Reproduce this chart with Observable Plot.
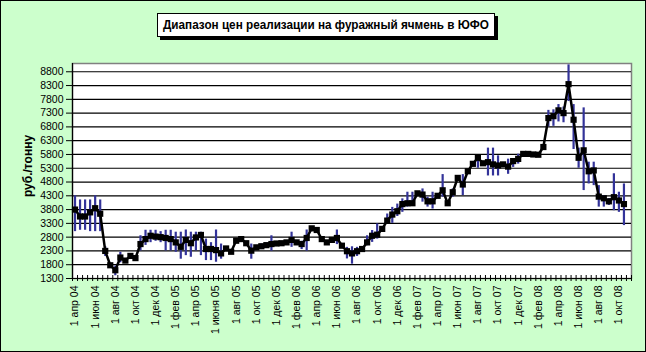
<!DOCTYPE html>
<html>
<head>
<meta charset="utf-8">
<script src="https://cdn.jsdelivr.net/npm/d3@7"></script>
<script src="https://cdn.jsdelivr.net/npm/@observablehq/plot@0.6"></script>
<style>
  html, body { margin: 0; padding: 0; background: #CCFFCC; }
  #wrap { position: relative; width: 646px; height: 352px; background: #CCFFCC; overflow: hidden; }
  #border { position: absolute; left: 0; top: 0; width: 646px; height: 352px; box-sizing: border-box; border: 1px solid #000; pointer-events: none; }
  #title { position: absolute; left: 157px; top: 13px; width: 336px; height: 22px; background: #fff; border: 1px solid #000;
           box-shadow: 3px 3px 0 #000; font: bold 13px "Liberation Sans", Arial, sans-serif; line-height: 22px; white-space: nowrap; }
  #title span { position: absolute; left: 50%; top: 0; transform-origin: center; transform: translateX(-50%); }
  #ylab { position: absolute; left: 28px; top: 166px; transform: translate(-50%, -50%) rotate(-90deg);
          font: bold 12px "Liberation Sans", Arial, sans-serif; white-space: nowrap; }
  #chart { position: absolute; left: 0; top: 0; }
</style>
</head>
<body>
<div id="wrap">
  <div id="chart"></div>
  <div id="title"><span id="ttext">Диапазон цен реализации на фуражный ячмень в ЮФО</span></div>
  <div id="ylab">руб./тонну</div>
  <div id="border"></div>
</div>
<script>
// Category labels (every 4th category)
const xLabels = ["1 апр 04","1 июн 04","1 авг 04","1 окт 04","1 дек 04","1 фев 05","1 апр 05","1 июня 05","1 авг 05","1 окт 05","1 дек 05","1 фев 06","1 апр 06","1 июн 06","1 авг 06","1 окт 06","1 дек 06","1 фев 07","1 апр 07","1 июн 07","1 авг 07","1 окт 07","1 дек 07","1 фев 08","1 апр 08","1 июн 08","1 авг 08","1 окт 08"];
const nCategories = 111;
const yTicks = [1300,1800,2300,2800,3300,3800,4300,4800,5300,5800,6300,6800,7300,7800,8300,8800];
const yMin = 1300, yMax = 9100;

// Average price per category (руб./тонну)
const avgPrice = [3800,3550,3550,3700,3850,3650,2300,1780,1600,2060,
  1950,2120,2040,2550,2730,2850,2820,2800,2770,2730,
  2610,2450,2700,2580,2790,2880,2370,2370,2330,2210,
  2390,2270,2670,2730,2580,2310,2430,2470,2510,2550,
  2570,2580,2610,2700,2610,2550,2770,3120,3060,2730,
  2610,2700,2770,2490,2290,2210,2290,2370,2610,2850,
  2890,3100,3400,3620,3740,4000,4030,4030,4390,4345,
  4100,4100,4300,4500,4030,4430,4950,4710,5190,5460,
  5680,5480,5520,5440,5400,5440,5360,5560,5640,5820,
  5820,5800,5790,6070,7120,7190,7400,7300,8350,7060,
  5680,5950,5190,5220,4270,4210,4100,4250,4130,4000];

// Price range (max / min), null where no range is drawn
const maxPrice = [4300,4150,4150,4150,4300,4150,2450,null,1750,2250,
  null,2200,null,2850,3050,3050,3050,3000,3050,3050,
  2980,2980,3060,2980,2980,2980,2730,2600,3060,2550,
  2450,null,null,null,null,2550,2500,2550,null,2850,
  null,null,null,2980,null,2650,3060,null,null,null,
  null,null,3060,null,2430,2450,2430,null,2850,3040,
  3280,null,3640,3880,4000,4190,4430,4430,null,4550,
  4250,4430,null,5070,null,4550,null,5070,null,null,
  5630,null,6030,6030,5750,null,5630,5630,5810,null,
  null,null,null,null,7400,7420,7610,7520,9050,7610,
  6030,7490,5520,5520,4670,4310,4200,5100,4430,4730];
const minPrice = [3000,3050,3050,3000,3000,3000,2100,null,1400,1870,
  null,2000,null,2300,2500,2600,2650,2600,2300,2300,
  2250,2000,2130,2070,2300,2130,1950,1950,1890,2000,
  2300,null,null,null,null,2000,2350,2350,null,2290,
  null,null,null,2430,null,2350,2290,null,null,null,
  null,null,2530,null,2010,1820,2100,null,2490,2610,
  2730,null,3340,3300,3550,3700,3890,3950,null,4070,
  3890,3820,null,4250,null,4250,null,4310,null,null,
  5300,null,5020,5020,5020,null,5080,5330,5450,null,
  null,null,null,null,6800,6820,6980,6950,7720,5980,
  5300,4490,4730,4670,3890,3890,3950,3760,3700,3220];

const series = avgPrice.map((v, i) => ({i, v}));
const ranges = maxPrice.map((h, i) => ({i, hi: h, lo: minPrice[i]})).filter(d => d.hi != null && d.lo != null);
const boundaries = d3.range(nCategories + 1).map(k => k - 0.5);
const labelIdx = xLabels.map((_, j) => j * 4);

const chart = Plot.plot({
  width: 646,
  height: 352,
  marginLeft: 72,
  marginRight: 15,
  marginTop: 63,
  marginBottom: 74,
  style: {background: "transparent", fontFamily: "'Liberation Sans', Arial, sans-serif", fontSize: "10.5px", color: "#000", overflow: "visible"},
  x: {type: "linear", domain: [-0.5, nCategories - 0.5], axis: null},
  y: {domain: [yMin, yMax], axis: null},
  marks: [
    Plot.frame({fill: "#fff", stroke: "#808080", strokeWidth: 1.5}),
    Plot.gridY(yTicks.filter(t => t > yMin), {stroke: "#000", strokeOpacity: 1, strokeWidth: 1.2}),
    Plot.ruleX(ranges, {x: "i", y1: "lo", y2: "hi", stroke: "#333399", strokeWidth: 2.2}),
    Plot.line(series, {x: "i", y: "v", stroke: "#000", strokeWidth: 2.5}),
    Plot.dot(series, {x: "i", y: "v", fill: "#000", r: 3.5, symbol: "square"}),
    Plot.ruleY([yMin], {stroke: "#000", strokeWidth: 1.2}),
    Plot.ruleX([-0.5], {stroke: "#000", strokeWidth: 1.2}),
    Plot.axisY({ticks: yTicks, tickSize: 6, tickPadding: 3, tickFormat: d => String(d), label: null, stroke: "#000"}),
    Plot.axisX({ticks: boundaries, tickSize: 6, dy: -3, tickFormat: () => "", label: null, stroke: "#000"}),
    Plot.axisX({ticks: labelIdx, tickSize: 0, tickPadding: 7, tickRotate: -90, tickFormat: i => xLabels[i / 4], label: null})
  ]
});
document.getElementById("chart").appendChild(chart);

// fit title text into its box
const t = document.getElementById("ttext");
const w = t.getBoundingClientRect().width;
const target = 326;
if (w > target) t.style.transform = `translateX(-50%) scaleX(${target / w})`;
</script>
</body>
</html>
